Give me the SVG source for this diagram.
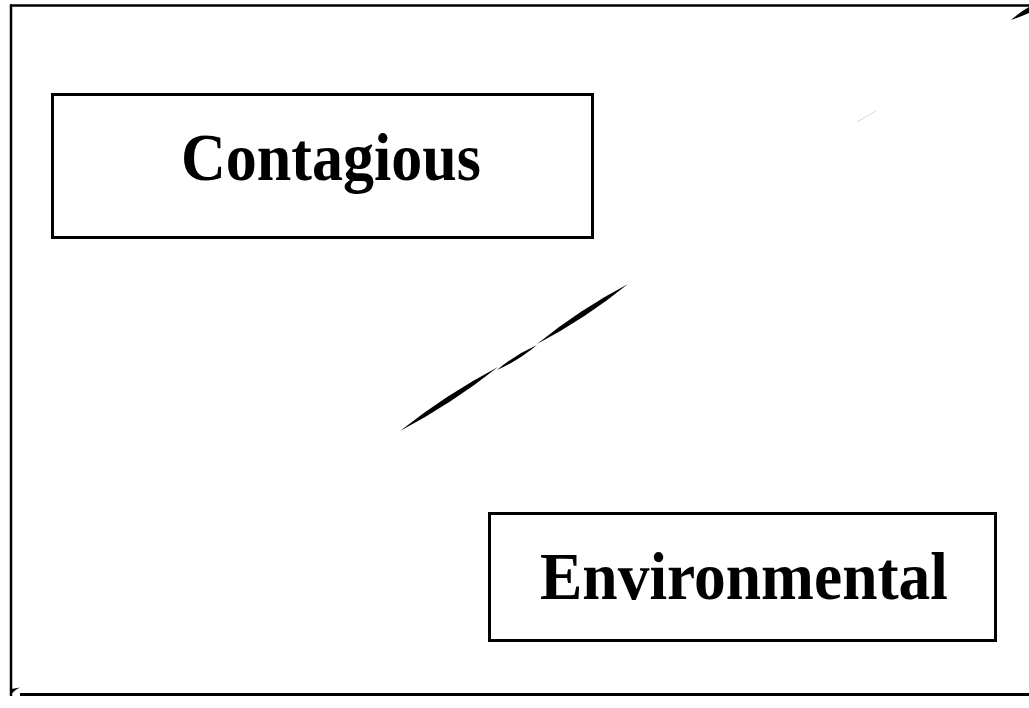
<svg xmlns="http://www.w3.org/2000/svg" width="1029" height="708" viewBox="0 0 1029 708">
<style>
.box{fill:#fff;stroke:#000;stroke-width:3}
.lbl{font-family:"Liberation Serif","Times New Roman",serif;font-weight:bold;font-size:68px;fill:#000}
.frame{stroke:#000;fill:none}
.stroke{fill:#000;stroke:none}
</style>
<rect width="1029" height="708" fill="#fff"/>
<g id="frame">
<line class="frame" x1="10" y1="5.5" x2="1029" y2="5.5" stroke-width="2.5"/>
<line class="frame" x1="11" y1="4.5" x2="11" y2="696" stroke-width="2.5"/>
<line class="frame" x1="20" y1="694.5" x2="1029" y2="694.5" stroke-width="3"/>
</g>
<g id="contagious">
<rect class="box" x="52.5" y="94.5" width="540" height="143"/>
<text class="lbl" x="181" y="180" textLength="300" lengthAdjust="spacingAndGlyphs">Contagious</text>
</g>
<g id="environmental">
<rect class="box" x="489.5" y="513.5" width="506" height="127"/>
<text class="lbl" x="540" y="599" textLength="408" lengthAdjust="spacingAndGlyphs">Environmental</text>
</g>
<g id="connectors">
<path class="stroke" d="M400,431 Q452,403.5 498,367 Q446,394.5 400,431 Z"/>
<path class="stroke" d="M497,370 Q518.8,360.3 537,345 Q515.2,354.7 497,370 Z"/>
<path class="stroke" d="M537,344 Q585.5,318.5 628,284 Q579.5,309.5 537,344 Z"/>
<path class="stroke" d="M1011,20 Q1020,12 1029,7 L1029,13 Q1020,17 1011,20 Z"/>
<path class="stroke" d="M10,696 L11.5,689 L20,687.5 Q14,690 10,696 Z"/>
<line x1="857" y1="122" x2="876" y2="111" stroke="#bbb" stroke-width="0.6"/>
</g>
</svg>
